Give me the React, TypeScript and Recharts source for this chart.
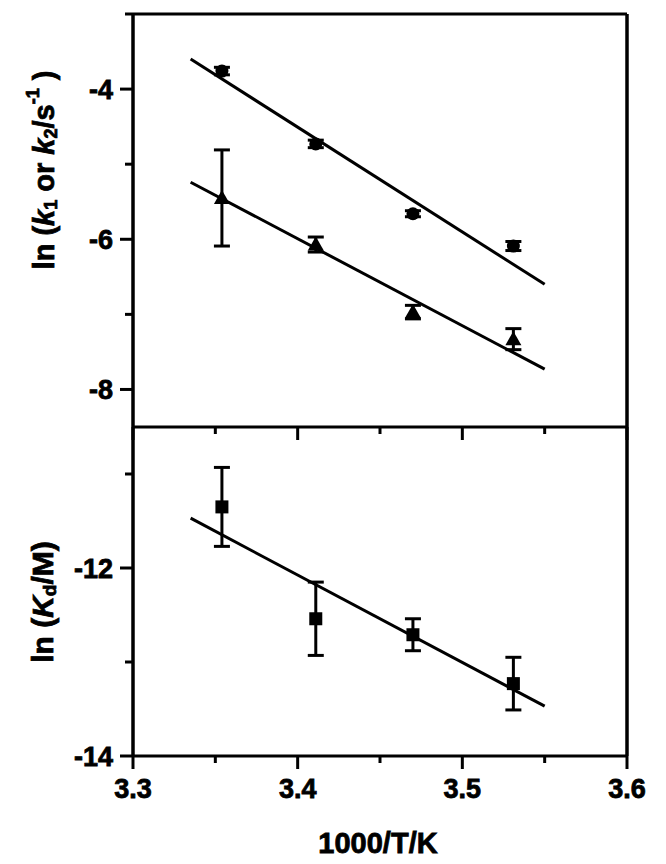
import React from "react";
import { ComposedChart, Scatter, XAxis, YAxis, ErrorBar, ReferenceLine } from "recharts";

// 1000/T positions of the four temperatures
const invTemps = [3.354, 3.411, 3.47, 3.531];

// top panel: ln k1 (circles) and ln k2 (triangles)
const lnK1 = [-3.76, -4.73, -5.66, -6.09];
const lnK1Err = [0.05, 0.05, 0.04, 0.06];
const lnK2 = [-5.45, -6.07, -6.97, -7.33];
const lnK2Err = [0.64, 0.1, 0.09, 0.14];

// bottom panel: ln Kd (squares)
const lnKd = [-11.35, -12.54, -12.71, -13.23];
const lnKdErr = [0.42, 0.39, 0.17, 0.28];

// linear fits (end points)
const fitX = [3.335, 3.55];
const fitK1 = [-3.6, -6.6];
const fitK2 = [-5.24, -7.73];
const fitKd = [-11.47, -13.47];

const xTicks = [3.3, 3.35, 3.4, 3.45, 3.5, 3.55, 3.6];
const xLabels = [3.3, 3.4, 3.5, 3.6];
const topYTicks = [-8, -7, -6, -5, -4, -3];
const topYLabels = [-8, -6, -4];
const bottomYTicks = [-14, -13, -12, -11];
const bottomYLabels = [-14, -12];

const FONT = '"Liberation Sans", Arial, Helvetica, sans-serif';
const INK = "#000";
// the original glyphs are heavier than plain bold
const heavy = { fontWeight: "bold", fontFamily: FONT, fill: INK, stroke: INK, strokeWidth: 0.8 };

const pts = (xs: number[], ys: number[], errs?: number[]) =>
  xs.map((x, i) => ({ x, y: ys[i], err: errs ? errs[i] : 0 }));

const has = (list: number[], v: number) => list.some((t) => Math.abs(t - v) < 1e-6);

function XTick(props: any) {
  const { x, y, payload, showLabels } = props;
  const major = has(xLabels, payload.value);
  return (
    <g>
      <line x1={x} x2={x} y1={y} y2={y + (major ? 13 : 7)} stroke={INK} strokeWidth={3} />
      {showLabels && major && (
        <text x={x} y={y + 42} textAnchor="middle" fontSize={27} {...heavy}>
          {payload.value.toFixed(1)}
        </text>
      )}
    </g>
  );
}

function YTick(props: any) {
  const { x, y, payload, labels } = props;
  const major = has(labels, payload.value);
  return (
    <g>
      <line x1={x} x2={x - (major ? 13 : 8)} y1={y} y2={y} stroke={INK} strokeWidth={3} />
      {major && (
        <text x={x - 20} y={y + 10} textAnchor="end" fontSize={27} {...heavy}>
          {String(payload.value)}
        </text>
      )}
    </g>
  );
}

const Dot = (p: any) => <circle cx={p.cx} cy={p.cy} r={6.5} fill={INK} />;
const Tri = (p: any) => (
  <polygon points={`${p.cx},${p.cy - 8} ${p.cx + 8},${p.cy + 6} ${p.cx - 8},${p.cy + 6}`} fill={INK} />
);
const Sq = (p: any) => <rect x={p.cx - 6.5} y={p.cy - 6.5} width={13} height={13} fill={INK} />;
const NoMark = () => <g />;

const topTitle = () => {
  const cx = 44;
  const cy = 170;
  return (
    <text
      transform={`rotate(-90 ${cx} ${cy})`}
      x={cx}
      y={cy}
      textAnchor="middle"
      dominantBaseline="central"
      fontSize={29}
      {...heavy}
    >
      {"ln ("}
      <tspan fontStyle="italic">k</tspan>
      <tspan dy={7} fontSize={18}>1</tspan>
      <tspan dy={-7}>{" or "}</tspan>
      <tspan fontStyle="italic">k</tspan>
      <tspan dy={7} fontSize={18}>2</tspan>
      <tspan dy={-7}>/s</tspan>
      <tspan dy={-11} fontSize={18}>-1</tspan>
      <tspan dy={11}>{" )"}</tspan>
    </text>
  );
};

const bottomTitle = () => {
  const cx = 42;
  const cy = 602 - 427;
  return (
    <text
      transform={`rotate(-90 ${cx} ${cy})`}
      x={cx}
      y={cy}
      textAnchor="middle"
      dominantBaseline="central"
      fontSize={30}
      {...heavy}
    >
      {"ln ("}
      <tspan fontStyle="italic">K</tspan>
      <tspan dy={7} fontSize={19}>d</tspan>
      <tspan dy={-7}>/M)</tspan>
    </text>
  );
};

const xTitle = (props: any) => {
  const vb = props.viewBox || { x: 133, width: 494, y: 329 };
  return (
    <text x={vb.x + vb.width / 2 - 2} y={853 - 427} textAnchor="middle" fontSize={29} {...heavy}>
      1000/T/K
    </text>
  );
};

export default function App() {
  return (
    <div style={{ position: "absolute", left: 0, top: 0, width: 666, height: 864, background: "#fff" }}>
      {/* lower panel first so the upper panel's bottom ticks paint over it */}
      <div style={{ position: "absolute", left: 0, top: 427 }}>
        <ComposedChart width={666} height={437} margin={{ top: 0, right: 39, left: 0, bottom: 0 }}>
          <XAxis
            type="number"
            dataKey="x"
            domain={[3.3, 3.6]}
            ticks={xTicks}
            interval={0}
            allowDataOverflow
            height={108}
            axisLine={{ stroke: INK, strokeWidth: 3 }}
            tickLine={false}
            tickSize={0}
            tickMargin={0}
            tick={(p: any) => <XTick {...p} showLabels />}
            label={{ content: xTitle }}
          />
          <YAxis
            type="number"
            dataKey="y"
            domain={[-14, -10.5]}
            ticks={bottomYTicks}
            interval={0}
            allowDataOverflow
            width={133}
            axisLine={{ stroke: INK, strokeWidth: 3.5 }}
            tickLine={false}
            tickSize={0}
            tickMargin={0}
            tick={(p: any) => <YTick {...p} labels={bottomYLabels} />}
            label={{ content: bottomTitle }}
          />
          <ReferenceLine x={3.6} stroke={INK} strokeWidth={3.5} />
          <Scatter data={pts(fitX, fitKd)} shape={NoMark} stroke={INK} line={{ stroke: INK, strokeWidth: 3 }} isAnimationActive={false} />
          <Scatter data={pts(invTemps, lnKd, lnKdErr)} shape={Sq} fill={INK} isAnimationActive={false}>
            <ErrorBar dataKey="err" direction="y" width={8} stroke={INK} strokeWidth={3} isAnimationActive={false} />
          </Scatter>
        </ComposedChart>
      </div>
      <div style={{ position: "absolute", left: 0, top: 0 }}>
        <ComposedChart width={666} height={445} margin={{ top: 14, right: 39, left: 0, bottom: 0 }}>
          <XAxis
            type="number"
            dataKey="x"
            domain={[3.3, 3.6]}
            ticks={xTicks}
            interval={0}
            allowDataOverflow
            height={18}
            axisLine={{ stroke: INK, strokeWidth: 3 }}
            tickLine={false}
            tickSize={0}
            tickMargin={0}
            tick={(p: any) => <XTick {...p} showLabels={false} />}
          />
          <YAxis
            type="number"
            dataKey="y"
            domain={[-8.5, -3]}
            ticks={topYTicks}
            interval={0}
            allowDataOverflow
            width={133}
            axisLine={{ stroke: INK, strokeWidth: 3.5 }}
            tickLine={false}
            tickSize={0}
            tickMargin={0}
            tick={(p: any) => <YTick {...p} labels={topYLabels} />}
            label={{ content: topTitle }}
          />
          <ReferenceLine y={-3} stroke={INK} strokeWidth={3} />
          <ReferenceLine x={3.6} stroke={INK} strokeWidth={3.5} />
          <Scatter data={pts(fitX, fitK1)} shape={NoMark} stroke={INK} line={{ stroke: INK, strokeWidth: 3 }} isAnimationActive={false} />
          <Scatter data={pts(fitX, fitK2)} shape={NoMark} stroke={INK} line={{ stroke: INK, strokeWidth: 3 }} isAnimationActive={false} />
          <Scatter data={pts(invTemps, lnK1, lnK1Err)} shape={Dot} fill={INK} isAnimationActive={false}>
            <ErrorBar dataKey="err" direction="y" width={8} stroke={INK} strokeWidth={3} isAnimationActive={false} />
          </Scatter>
          <Scatter data={pts(invTemps, lnK2, lnK2Err)} shape={Tri} fill={INK} isAnimationActive={false}>
            <ErrorBar dataKey="err" direction="y" width={8} stroke={INK} strokeWidth={3} isAnimationActive={false} />
          </Scatter>
        </ComposedChart>
      </div>
    </div>
  );
}
